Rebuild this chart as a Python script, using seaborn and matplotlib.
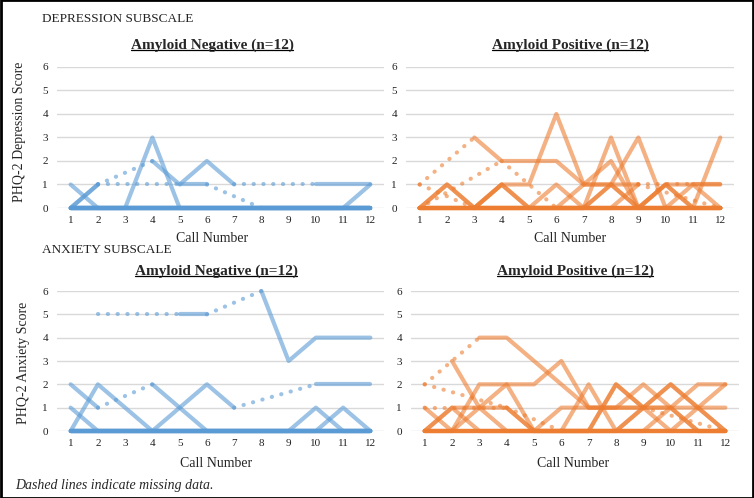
import numpy as np
import pandas as pd
import matplotlib
matplotlib.use('Agg')
import matplotlib.pyplot as plt
from matplotlib.lines import Line2D
from matplotlib.patches import Rectangle
import seaborn as sns

nan = np.nan
calls = list(range(1, 13))

# one row per participant, NaN = missed call
dep_neg = [
    [0, 1, nan, 2, 1, 2, 1, nan, nan, 1, 1, 1],
    [0, 1, nan, nan, 1, 1, nan, 0, 0, 0, 0, 0],
    [1, 0, 0, 0, 0, 0, 0, 0, 0, 0, 0, 0],
    [0, 0, 0, 3, 0, 0, 0, 0, 0, 0, 0, 0],
    [0, 0, 0, 0, 0, 0, 0, 0, 0, 0, 0, 1],
    [0, 0, 0, 0, 0, 0, 0, 0, 0, 0, 0, 0],
    [0, 0, 0, 0, 0, 0, 0, 0, 0, 0, 0, 0],
    [0, 0, 0, 0, 0, 0, 0, 0, 0, 0, 0, 0],
    [0, 0, 0, 0, 0, 0, 0, 0, 0, 0, 0, 0],
    [0, 0, 0, 0, 0, 0, 0, 0, 0, 0, 0, 0],
    [0, 0, 0, 0, 0, 0, 0, 0, 0, 0, 0, 0],
    [0, 0, 0, 0, 0, 0, 0, 0, 0, 0, 0, 0],
]
dep_pos = [
    [1, nan, 3, 2, 2, 2, 1, 1, 1, nan, 1, 1],
    [0, 1, 0, 1, 0, 0, 0, 1, 0, 1, 0, 0],
    [0, 1, 0, 1, 0, 0, 0, 0, 0, 1, 0, 0],
    [0, 0, 0, 1, 1, 4, 1, 1, 0, 0, 0, 0],
    [0, 0, 0, 0, 0, 1, 0, 1, 3, 0, 0, 0],
    [0, 0, 0, 0, 0, 0, 0, 3, 0, 0, 0, 0],
    [0, 0, 0, 0, 0, 0, 1, 2, 0, 0, 0, 0],
    [0, 0, 0, 0, 0, 0, 0, 0, 0, 0, 0, 3],
    [0, 0, 0, 0, 0, 0, 0, 0, 0, 0, 1, 0],
    [0, nan, nan, 2, nan, 0, 0, 0, 1, nan, nan, 0],
    [1, nan, 0, 0, 0, 0, 0, 0, 0, 0, 0, 0],
    [0, 0, 0, 0, 0, 0, 0, 0, 0, 1, 1, 1],
]
anx_neg = [
    [nan, 5, nan, nan, 5, 5, nan, 6, 3, 4, 4, 4],
    [2, 1, nan, 2, 1, 0, 0, 0, 0, 0, 0, 0],
    [1, 0, 0, 0, 0, 0, 0, 0, 0, 0, 0, 0],
    [0, 2, 1, 0, 1, 2, 1, nan, nan, 2, 2, 2],
    [0, 0, 0, 0, 0, 0, 0, 0, 0, 1, 0, 0],
    [0, 0, 0, 0, 0, 0, 0, 0, 0, 0, 1, 0],
    [0, 0, 0, 0, 0, 0, 0, 0, 0, 0, 0, 0],
    [0, 0, 0, 0, 0, 0, 0, 0, 0, 0, 0, 0],
    [0, 0, 0, 0, 0, 0, 0, 0, 0, 0, 0, 0],
    [0, 0, 0, 0, 0, 0, 0, 0, 0, 0, 0, 0],
    [0, 0, 0, 0, 0, 0, 0, 0, 0, 0, 0, 0],
    [0, 0, 0, 0, 0, 0, 0, 0, 0, 0, 0, 0],
]
anx_pos = [
    [2, nan, 4, 4, 3, 2, 1, 1, 1, 1, 1, 1],
    [nan, 3, 1, 0, 0, 0, 0, 0, 0, 0, 0, 0],
    [0, 0, 2, 2, 2, 3, 1, 1, 2, 1, 0, 0],
    [1, 0, 0, 0, 0, 0, 2, 0, 1, 2, 1, 0],
    [0, 1, 0, 0, 0, 1, 1, 1, 1, 1, 2, 2],
    [0, 1, 1, 1, 0, 0, 0, 2, 1, 0, 1, 2],
    [0, 0, 1, 2, 0, 0, 0, 0, 0, 0, 0, 0],
    [2, nan, nan, 1, nan, 0, 0, 2, 1, 2, 1, 0],
    [1, nan, nan, 1, 0, 0, 0, 0, 1, nan, nan, 0],
    [0, 0, 0, 0, 0, 0, 0, 0, 0, 0, 0, 0],
    [0, 0, 0, 0, 0, 0, 0, 0, 0, 1, 0, 0],
    [0, 0, 0, 0, 0, 0, 0, 0, 0, 0, 0, 0],
]

BLUE = '#5B9BD5'
ORANGE = '#ED7D31'
SERIF = 'Liberation Serif'

sns.set_style('white')
plt.rcParams['font.family'] = SERIF


def split_segments(rows):
    # solid runs of consecutive calls, plus 2-point connectors across gaps
    solid, gaps = [], []
    for s, vals in enumerate(rows):
        run = 0
        prev_ok = False
        for c, v in zip(calls, vals):
            if np.isnan(v):
                prev_ok = False
                continue
            if not prev_ok:
                run += 1
            solid.append((f'{s}-{run}', c, v))
            prev_ok = True
        obs = [(c, v) for c, v in zip(calls, vals) if not np.isnan(v)]
        for (c0, v0), (c1, v1) in zip(obs[:-1], obs[1:]):
            if c1 - c0 > 1:
                gaps.append((f'{s}-g{c0}', c0, v0))
                gaps.append((f'{s}-g{c0}', c1, v1))
    cols = ['seg', 'call', 'score']
    return pd.DataFrame(solid, columns=cols), pd.DataFrame(gaps, columns=cols)


def draw_panel(ax, rows, color):
    solid, gaps = split_segments(rows)
    ax.grid(axis='y', color='#D9D9D9', lw=1)
    ax.set_axisbelow(True)
    if len(gaps):
        sns.lineplot(data=gaps, x='call', y='score', units='seg', estimator=None,
                     color=color, alpha=0.6, lw=3.0, linestyle=(0, (0.05, 2.3)),
                     dash_capstyle='round', clip_on=False, sort=False,
                     legend=False, ax=ax)
    sns.lineplot(data=solid, x='call', y='score', units='seg', estimator=None,
                 color=color, alpha=0.6, lw=3.0, solid_joinstyle='round',
                 clip_on=False, sort=False, legend=False, ax=ax)
    ax.set_xlim(0.5, 12.5)
    ax.set_ylim(0, 6)
    ax.set_xticks(calls)
    ax.set_yticks(range(7))
    ax.set_xlabel('')
    ax.set_ylabel('')
    for sp in ax.spines.values():
        sp.set_visible(False)
    ax.tick_params(length=0, labelsize=8, colors='#222222')
    ax.tick_params(axis='y', pad=6.5)
    ax.tick_params(axis='x', pad=6)


W, H = 754, 498
fig = plt.figure(figsize=(W / 100, H / 100), dpi=100)


def px_axes(left, top, right, bottom):
    return fig.add_axes([left / W, 1 - bottom / H, (right - left) / W, (bottom - top) / H])


ax1 = px_axes(57, 67, 384, 208)
ax2 = px_axes(406, 67, 734, 208)
ax3 = px_axes(57, 291, 384, 431)
ax4 = px_axes(411, 291, 739, 431)

draw_panel(ax1, dep_neg, BLUE)
draw_panel(ax2, dep_pos, ORANGE)
draw_panel(ax3, anx_neg, BLUE)
draw_panel(ax4, anx_pos, ORANGE)


def ftext(x, y, s, **kw):
    return fig.text(x / W, 1 - y / H, s, **kw)


titles = []
titles.append(ftext(212, 45, 'Amyloid Negative (n=12)', ha='center', va='center', fontsize=11, fontweight='bold'))
titles.append(ftext(570, 45, 'Amyloid Positive (n=12)', ha='center', va='center', fontsize=11, fontweight='bold'))
titles.append(ftext(216, 271, 'Amyloid Negative (n=12)', ha='center', va='center', fontsize=11, fontweight='bold'))
titles.append(ftext(575, 271, 'Amyloid Positive (n=12)', ha='center', va='center', fontsize=11, fontweight='bold'))

ftext(42, 19, 'DEPRESSION SUBSCALE', ha='left', va='center', fontsize=9.5, color='#222222')
ftext(42, 250, 'ANXIETY SUBSCALE', ha='left', va='center', fontsize=9.5, color='#222222')

for x, y in [(212, 239), (570, 239), (216, 463), (573, 463)]:
    ftext(x, y, 'Call Number', ha='center', va='center', fontsize=10)

ftext(20, 132, 'PHQ-2 Depression Score', ha='center', va='center', rotation=90, fontsize=10)
ftext(24, 363, 'PHQ-2 Anxiety Score', ha='center', va='center', rotation=90, fontsize=10)

ftext(15, 485, 'Dashed lines indicate missing data.', ha='left', va='center', fontsize=10, style='italic')

# underline the panel titles
fig.canvas.draw()
rend = fig.canvas.get_renderer()
for t in titles:
    bb = t.get_window_extent(renderer=rend)
    yline = (bb.y0 + 1.5) / H
    fig.add_artist(Line2D([bb.x0 / W, bb.x1 / W], [yline, yline], color='black', lw=0.9,
                          transform=fig.transFigure))

fig.add_artist(Rectangle((0.001, 0.001), 0.998, 0.998, fill=False, edgecolor='black',
                         lw=2, transform=fig.transFigure))

fig.savefig('out.png', dpi=100)
